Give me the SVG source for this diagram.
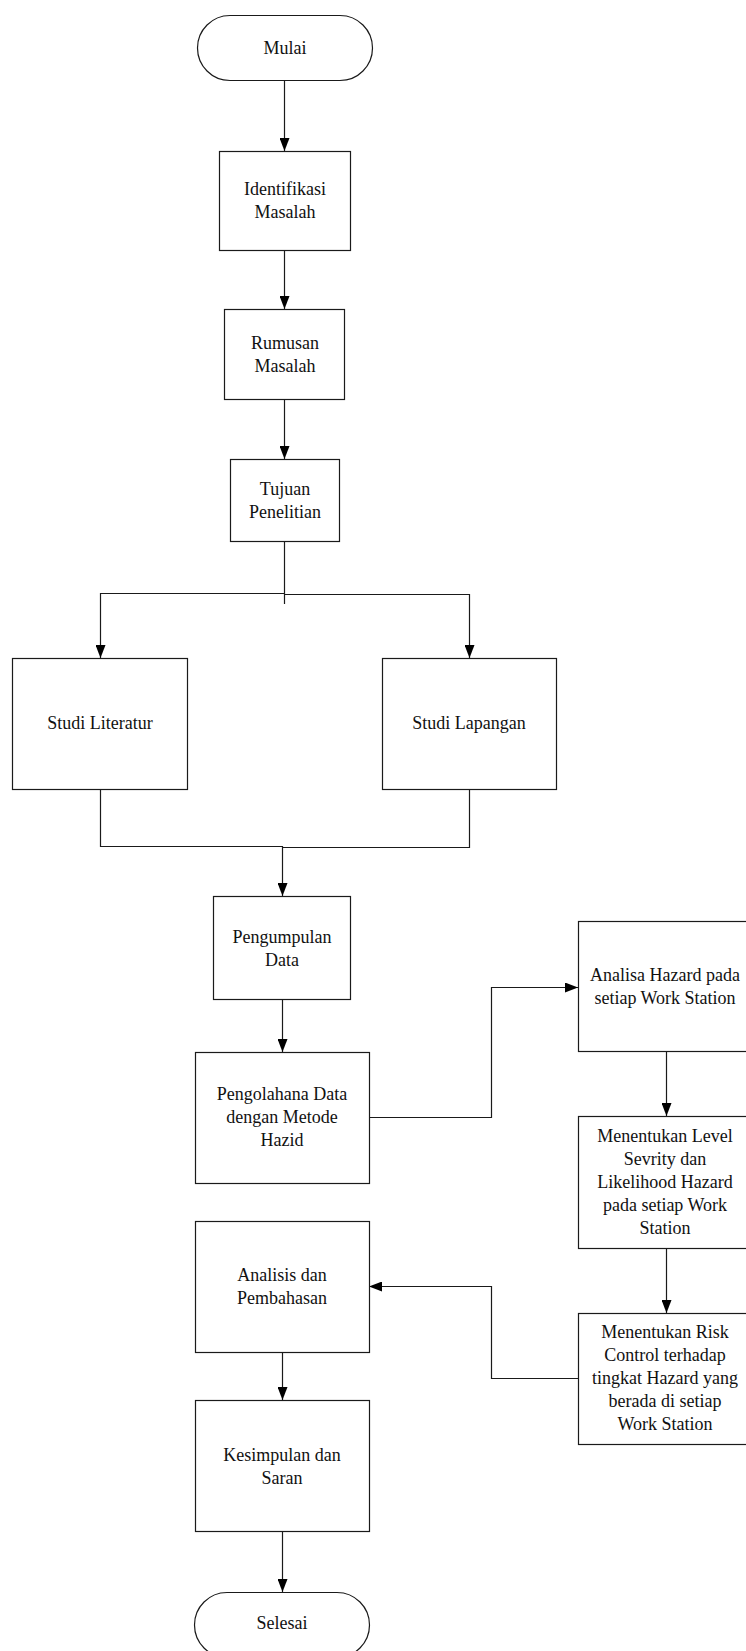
<svg xmlns="http://www.w3.org/2000/svg" width="746" height="1651" viewBox="0 0 746 1651">
<style>
.box{fill:#fff;stroke:#1a1a1a;stroke-width:1.2}
.c{fill:none;stroke:#1a1a1a;stroke-width:1.2}
text{font-family:"Liberation Serif","Times New Roman",serif;font-size:18px;fill:#111;text-anchor:middle;dominant-baseline:central}
</style>
<defs>
<marker id="arr" viewBox="0 0 13 10" refX="13" refY="5" markerWidth="13" markerHeight="10" markerUnits="userSpaceOnUse" orient="auto">
<path d="M0,0 L13,5 L0,10 z" fill="#000"/>
</marker>
</defs>
<rect width="746" height="1651" fill="#fff"/>
<g id="connectors">
<path class="c" d="M284.5,80 V151" marker-end="url(#arr)"/>
<path class="c" d="M284.5,250 V309" marker-end="url(#arr)"/>
<path class="c" d="M284.5,399 V459" marker-end="url(#arr)"/>
<path class="c" d="M284.5,541 V604"/>
<path class="c" d="M284.5,593.5 H100.5 V658" marker-end="url(#arr)"/>
<path class="c" d="M284.5,594.5 H469.5 V658" marker-end="url(#arr)"/>
<path class="c" d="M100.5,789 V846.5 H282.5"/>
<path class="c" d="M469.5,789 V847.5 H282.5"/>
<path class="c" d="M282.5,846 V896" marker-end="url(#arr)"/>
<path class="c" d="M282.5,999 V1052" marker-end="url(#arr)"/>
<path class="c" d="M369,1117.5 H491.5 V987.5 H578" marker-end="url(#arr)"/>
<path class="c" d="M666.5,1051 V1116" marker-end="url(#arr)"/>
<path class="c" d="M666.5,1248 V1313" marker-end="url(#arr)"/>
<path class="c" d="M578,1378.5 H491.5 V1286.5 H369" marker-end="url(#arr)"/>
<path class="c" d="M282.5,1352 V1400" marker-end="url(#arr)"/>
<path class="c" d="M282.5,1531 V1592" marker-end="url(#arr)"/>
</g>
<g id="mulai">
<rect class="box" x="197.5" y="15.5" width="175" height="65" rx="32.5" ry="32.5"/>
<text x="285" y="48">Mulai</text>
</g>
<g id="identifikasi">
<rect class="box" x="219.5" y="151.5" width="131" height="99"/>
<text x="285" y="189">Identifikasi</text>
<text x="285" y="212">Masalah</text>
</g>
<g id="rumusan">
<rect class="box" x="224.5" y="309.5" width="120" height="90"/>
<text x="285" y="343">Rumusan</text>
<text x="285" y="366">Masalah</text>
</g>
<g id="tujuan">
<rect class="box" x="230.5" y="459.5" width="109" height="82"/>
<text x="285" y="489">Tujuan</text>
<text x="285" y="512">Penelitian</text>
</g>
<g id="studi-literatur">
<rect class="box" x="12.5" y="658.5" width="175" height="131"/>
<text x="100" y="723">Studi Literatur</text>
</g>
<g id="studi-lapangan">
<rect class="box" x="382.5" y="658.5" width="174" height="131"/>
<text x="469" y="723">Studi Lapangan</text>
</g>
<g id="pengumpulan">
<rect class="box" x="213.5" y="896.5" width="137" height="103"/>
<text x="282" y="937">Pengumpulan</text>
<text x="282" y="960">Data</text>
</g>
<g id="pengolahan">
<rect class="box" x="195.5" y="1052.5" width="174" height="131"/>
<text x="282" y="1094">Pengolahana Data</text>
<text x="282" y="1117">dengan Metode</text>
<text x="282" y="1140">Hazid</text>
</g>
<g id="analisa-hazard">
<rect class="box" x="578.5" y="921.5" width="174" height="130"/>
<text x="665" y="975">Analisa Hazard pada</text>
<text x="665" y="998">setiap Work Station</text>
</g>
<g id="level">
<rect class="box" x="578.5" y="1116.5" width="174" height="132"/>
<text x="665" y="1136">Menentukan Level</text>
<text x="665" y="1159">Sevrity dan</text>
<text x="665" y="1182">Likelihood Hazard</text>
<text x="665" y="1205">pada setiap Work</text>
<text x="665" y="1228">Station</text>
</g>
<g id="risk-control">
<rect class="box" x="578.5" y="1313.5" width="174" height="131"/>
<text x="665" y="1332">Menentukan Risk</text>
<text x="665" y="1355">Control terhadap</text>
<text x="665" y="1378">tingkat Hazard yang</text>
<text x="665" y="1401">berada di setiap</text>
<text x="665" y="1424">Work Station</text>
</g>
<g id="analisis">
<rect class="box" x="195.5" y="1221.5" width="174" height="131"/>
<text x="282" y="1275">Analisis dan</text>
<text x="282" y="1298">Pembahasan</text>
</g>
<g id="kesimpulan">
<rect class="box" x="195.5" y="1400.5" width="174" height="131"/>
<text x="282" y="1455">Kesimpulan dan</text>
<text x="282" y="1478">Saran</text>
</g>
<g id="selesai">
<rect class="box" x="194.5" y="1592.5" width="175" height="65" rx="32.5" ry="32.5"/>
<text x="282" y="1623">Selesai</text>
</g>
</svg>
